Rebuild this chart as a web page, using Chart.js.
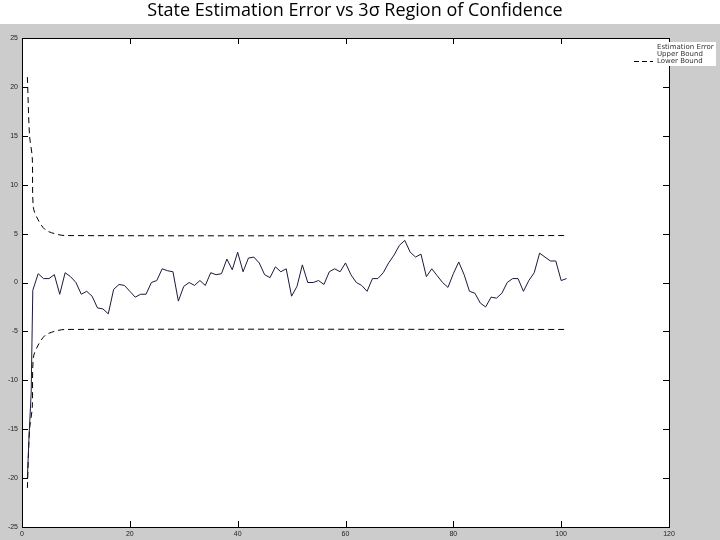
<!DOCTYPE html>
<html>
<head>
<meta charset="utf-8">
<script src="https://cdn.jsdelivr.net/npm/chart.js@4"></script>
<style>
  html, body { margin: 0; padding: 0; background: #fff; }
  #wrap { width: 720px; height: 540px; }
</style>
</head>
<body>
<div id="wrap"><canvas id="chart" width="720" height="540"></canvas></div>
<script>
// ===== data =====
const errStartX = [1, 1.3, 1.7];
const errStartY = [-20, -15.8, -11.3];
const errorValues = [ // x = 2 .. 101
  -0.8, 0.9, 0.4, 0.4, 0.8, -1.2, 1.0, 0.6, 0, -1.2,
  -0.9, -1.4, -2.6, -2.7, -3.2, -0.7, -0.2, -0.3, -0.9, -1.5,
  -1.2, -1.2, 0, 0.2, 1.4, 1.2, 1.1, -1.9, -0.4, 0,
  -0.3, 0.2, -0.3, 1.0, 0.8, 0.9, 2.4, 1.3, 3.1, 1.1,
  2.5, 2.6, 2.0, 0.8, 0.5, 1.6, 1.1, 1.4, -1.4, -0.4,
  1.8, 0, 0, 0.2, -0.2, 1.1, 1.4, 1.1, 2.0, 0.8,
  0, -0.3, -0.9, 0.4, 0.4, 1.0, 2.0, 2.8, 3.8, 4.3,
  3.1, 2.6, 2.9, 0.6, 1.4, 0.7, 0, -0.5, 0.9, 2.1,
  0.8, -0.9, -1.1, -2.1, -2.5, -1.5, -1.6, -1.1, 0, 0.4,
  0.4, -0.9, 0.2, 1.0, 3.0, 2.6, 2.2, 2.2, 0.2, 0.4
];
const boundX = [1, 1.4, 1.9, 2.1, 3, 4.3, 6, 8, 101];
const boundY = [21, 15, 12.8, 7.7, 6.4, 5.4, 5.0, 4.8, 4.8];
const yTicks = [25, 20, 15, 10, 5, 0, -5, -10, -15, -20, -25];
const xTicks = [0, 20, 40, 60, 80, 100, 120];

const errorPoints = errStartX.map((x, i) => ({ x: x, y: errStartY[i] }))
  .concat(errorValues.map((v, i) => ({ x: i + 2, y: v })));
const upperPoints = boundX.map((x, i) => ({ x: x, y: boundY[i] }));
const lowerPoints = boundX.map((x, i) => ({ x: x, y: -boundY[i] }));

// background, box, inward ticks, title and legend
const matlabLook = {
  id: 'matlabLook',
  beforeDraw(chart) {
    const c = chart.ctx, a = chart.chartArea;
    c.save();
    c.fillStyle = '#fff';
    c.fillRect(0, 0, 720, 24);
    c.fillStyle = '#cccccc';
    c.fillRect(0, 24, 720, 516);
    c.fillStyle = '#fff';
    c.fillRect(a.left, a.top, a.right - a.left, a.bottom - a.top);
    c.restore();
  },
  afterDraw(chart) {
    const c = chart.ctx, a = chart.chartArea;
    const xs = chart.scales.x, ys = chart.scales.y;
    c.save();
    c.strokeStyle = '#000';
    c.lineWidth = 1;
    c.strokeRect(a.left + 0.5, a.top + 0.5, a.right - a.left, a.bottom - a.top);
    c.beginPath();
    yTicks.forEach(v => {
      const p = Math.round(ys.getPixelForValue(v)) + 0.5;
      c.moveTo(a.left, p); c.lineTo(a.left + 6, p);
      c.moveTo(a.right, p); c.lineTo(a.right - 6, p);
    });
    xTicks.forEach(v => {
      const p = Math.round(xs.getPixelForValue(v)) + 0.5;
      c.moveTo(p, a.bottom); c.lineTo(p, a.bottom - 6);
      c.moveTo(p, a.top); c.lineTo(p, a.top + 6);
    });
    c.stroke();

    c.fillStyle = '#000';
    c.font = '18px "Open Sans", sans-serif';
    c.textAlign = 'center';
    c.textBaseline = 'middle';
    c.fillText('State Estimation Error vs 3\u03c3 Region of Confidence', 355, 11);

    // legend box
    c.fillStyle = '#fff';
    c.fillRect(632, 42, 84, 24);
    c.font = '7px "DejaVu Sans", sans-serif';
    c.textAlign = 'left';
    c.fillStyle = '#333';
    const labels = ['Estimation Error', 'Upper Bound', 'Lower Bound'];
    labels.forEach((t, i) => c.fillText(t, 657, 47 + i * 7));
    c.setLineDash([5, 3]);
    c.beginPath();
    c.moveTo(634, 61.5); c.lineTo(653, 61.5);
    c.stroke();
    c.restore();
  }
};

new Chart(document.getElementById('chart'), {
  type: 'scatter',
  data: {
    datasets: [
      { label: 'Estimation Error', data: errorPoints, showLine: true, borderColor: '#1a1a3a',
        borderWidth: 1, pointRadius: 0, tension: 0 },
      { label: 'Upper Bound', data: upperPoints, showLine: true, borderColor: '#000',
        borderWidth: 1, borderDash: [6, 4], pointRadius: 0, tension: 0.3 },
      { label: 'Lower Bound', data: lowerPoints, showLine: true, borderColor: '#000',
        borderWidth: 1, borderDash: [6, 4], pointRadius: 0, tension: 0.3 }
    ]
  },
  options: {
    responsive: false,
    animation: false,
    layout: { padding: { top: 38, right: 51, left: 0, bottom: 0 } },
    scales: {
      x: {
        type: 'linear', min: 0, max: 120,
        afterBuildTicks: s => { s.ticks = xTicks.map(v => ({ value: v })); },
        afterFit: s => { s.height = 13; },
        grid: { display: false, drawTicks: false },
        border: { display: false },
        ticks: { font: { size: 7 }, color: '#222', padding: 3, maxRotation: 0 }
      },
      y: {
        type: 'linear', min: -25, max: 25,
        afterBuildTicks: s => { s.ticks = yTicks.map(v => ({ value: v })); },
        afterFit: s => { s.width = 22; },
        grid: { display: false, drawTicks: false },
        border: { display: false },
        ticks: { font: { size: 7 }, color: '#222', padding: 4 }
      }
    },
    plugins: { legend: { display: false }, tooltip: { enabled: false } }
  },
  plugins: [matlabLook]
});
</script>
</body>
</html>
